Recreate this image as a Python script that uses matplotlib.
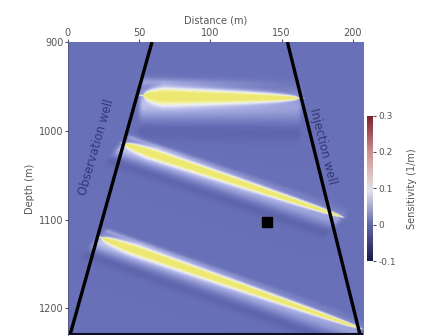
import numpy as np
import matplotlib
matplotlib.use("Agg")
import matplotlib.pyplot as plt
from matplotlib.colors import LinearSegmentedColormap, Normalize
from matplotlib.cm import ScalarMappable

# well traces: (distance at top, depth top), (distance at bottom, depth bottom)
obs_well = [(59.0, 900.0), (1.5, 1230.0)]
inj_well = [(154.0, 900.0), (205.0, 1230.0)]

# sensitive layers: start point, end point (distance m, depth m), half thickness, peak
lens_start = [(53.0, 960.0), (40.0, 1015.0), (24.0, 1121.0)]
lens_end = [(161.0, 963.0), (190.0, 1096.0), (203.0, 1222.0)]
lens_width = [11.0, 6.0, 6.0]
lens_peak = [0.30, 0.30, 0.30]

source_xy = (140.0, 1103.0)
cbar_ticks = [-0.1, 0, 0.1, 0.2, 0.3]

# sensitivity grid
xs = np.linspace(0, 207, 500)
zs = np.linspace(900, 1230, 500)
X, Z = np.meshgrid(xs, zs)
field = np.zeros_like(X)
for (x0, z0), (x1, z1), w, pk in zip(lens_start, lens_end, lens_width, lens_peak):
    dx, dz = x1 - x0, z1 - z0
    L = np.hypot(dx, dz)
    ux, uz = dx / L, dz / L
    t = ((X - x0) * ux + (Z - z0) * uz) / L
    d = (X - x0) * (-uz) + (Z - z0) * ux   # positive = below the layer
    tc = np.clip(t, 0, 1)
    # lens thins toward the far end
    half = w * np.sqrt(np.clip(1 - tc, 0, 1)) * np.sqrt(np.clip(tc * 8, 0, 1)) + 0.8
    env = np.exp(-((t - tc) * L / 3.0) ** 2)
    field += pk * np.exp(-(d / half) ** 2 * 1.6) * env
    # pale halo beneath the layer, faint rim above
    field += 0.10 * np.exp(-((d - 0.8 * w) / (1.5 * w)) ** 2) * env * (1 - 0.4 * tc)
    field += 0.05 * np.exp(-((d + 1.4 * w) / (0.4 * w)) ** 2) * env * (1 - tc)
    field -= 0.015 * np.exp(-((d - 3.5 * w) / (1.0 * w)) ** 2) * env

field_cmap = LinearSegmentedColormap.from_list("field", [
    (0.0, (0.12, 0.12, 0.35)),
    (0.25, (0.41, 0.44, 0.72)),
    (0.45, (0.68, 0.70, 0.90)),
    (0.62, (0.93, 0.93, 0.97)),
    (0.80, (0.95, 0.95, 0.64)),
    (1.0, (0.93, 0.91, 0.45)),
])
bar_cmap = LinearSegmentedColormap.from_list("bar", [
    (0.0, (0.10, 0.10, 0.28)),
    (0.25, (0.38, 0.40, 0.66)),
    (0.48, (0.88, 0.88, 0.92)),
    (0.56, (0.88, 0.80, 0.80)),
    (0.75, (0.80, 0.56, 0.56)),
    (1.0, (0.48, 0.12, 0.16)),
])

fig = plt.figure(figsize=(4.27, 3.36), dpi=100)
ax = fig.add_axes([0.159, 0.003, 0.691, 0.872])
ax.imshow(field, extent=[0, 207, 1230, 900], cmap=field_cmap, vmin=-0.1, vmax=0.3,
          aspect="auto", interpolation="bilinear")
ax.set_xlim(0, 207)
ax.set_ylim(1230, 900)

# wells
for w in (obs_well, inj_well):
    ax.plot([w[0][0], w[1][0]], [w[0][1], w[1][1]], color="black", lw=2.4,
            solid_capstyle="butt")
ax.plot(*source_xy, marker="s", color="black", ms=7)
ax.plot([0, 207], [1229, 1229], color=(0.05, 0.05, 0.15), lw=1.5)

txt_col = (0.20, 0.22, 0.46)
ax.text(20, 1018, "Observation well", rotation=74, ha="center", va="center",
        color=txt_col, fontsize=8.5)
ax.text(179, 1018, "Injection well", rotation=-76, ha="center", va="center",
        color=txt_col, fontsize=8.5)

ax.xaxis.tick_top()
ax.xaxis.set_label_position("top")
ax.set_xticks([0, 50, 100, 150, 200])
ax.set_yticks([900, 1000, 1100, 1200])
ax.tick_params(labelsize=7, colors="#555555", length=2, pad=1)
ax.set_xlabel("Distance (m)", fontsize=7, color="#555555", labelpad=3)
ax.set_ylabel("Depth (m)", fontsize=7, color="#555555", labelpad=3)
for s in ax.spines.values():
    s.set_visible(False)
ax.spines["left"].set_visible(True)
ax.spines["left"].set_color("#555577")
ax.spines["left"].set_linewidth(0.6)

cax = fig.add_axes([0.860, 0.223, 0.014, 0.433])
cb = fig.colorbar(ScalarMappable(Normalize(-0.1, 0.3), bar_cmap), cax=cax, ticks=cbar_ticks)
cb.ax.set_yticklabels(["-0.1", "0", "0.1", "0.2", "0.3"])
cb.ax.tick_params(labelsize=6.5, colors="#555555", length=2, pad=2)
cb.outline.set_visible(False)
cb.set_label("Sensitivity (1/m)", fontsize=7, color="#555555", labelpad=8)

fig.savefig("out.png", dpi=100)
